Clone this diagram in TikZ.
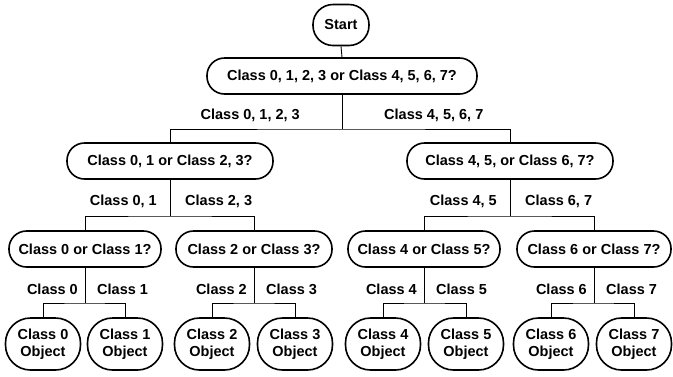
\documentclass[tikz,border=0pt]{standalone}
\usepackage{fontspec}
\setmainfont{Liberation Sans}
\begin{document}
\begin{tikzpicture}[x=1pt,y=-1pt,
  every node/.style={font=\fontsize{14.5}{17.5}\selectfont\bfseries, inner sep=0pt},
  decision/.style={draw, line width=1.6pt, rounded corners=17.5pt, minimum height=36pt},
  leafnode/.style={draw, line width=1.6pt, rounded corners=25pt, minimum width=75pt, minimum height=52pt, align=center},
  startnode/.style={draw, line width=1.6pt, rounded corners=20pt, minimum width=56pt, minimum height=41pt},
  conn/.style={line width=0.9pt},
  lbl/.style={}
]
\useasboundingbox (0,0) rectangle (673,376);

\node[startnode] (start) at (341,25) {Start};
\node[decision, minimum width=270pt] (root) at (342,76) {Class 0, 1, 2, 3 or Class 4, 5, 6, 7?};

\node[decision, minimum width=206pt] (b2l) at (170,161) {Class 0, 1 or Class 2, 3?};
\node[decision, minimum width=206pt] (b2r) at (510,161) {Class 4, 5, or Class 6, 7?};

\node[decision, minimum width=152pt] (b3a) at (85,249) {Class 0 or Class 1?};
\node[decision, minimum width=156pt] (b3b) at (254,249) {Class 2 or Class 3?};
\node[decision, minimum width=152pt] (b3c) at (424,249) {Class 4 or Class 5?};
\node[decision, minimum width=154pt] (b3d) at (594,249) {Class 6 or Class 7?};

\node[leafnode] (l0) at (43,344) {Class 0\\Object};
\node[leafnode] (l1) at (125,344) {Class 1\\Object};
\node[leafnode] (l2) at (212,344) {Class 2\\Object};
\node[leafnode] (l3) at (295,344) {Class 3\\Object};
\node[leafnode] (l4) at (383,344) {Class 4\\Object};
\node[leafnode] (l5) at (466,344) {Class 5\\Object};
\node[leafnode] (l6) at (551,344) {Class 6\\Object};
\node[leafnode] (l7) at (634,344) {Class 7\\Object};

% junctions
\coordinate (j1) at (root.south |- 0,129);
\coordinate (j2l) at (b2l.south |- 0,216);
\coordinate (j2r) at (b2r.south |- 0,216);
\coordinate (j3a) at (b3a.south |- 0,303);
\coordinate (j3b) at (b3b.south |- 0,303);
\coordinate (j3c) at (b3c.south |- 0,303);
\coordinate (j3d) at (b3d.south |- 0,303);

\draw[conn] (start.south) -- (root.north);

\draw[conn] (root.south) -- (j1);
\draw[conn] (b2l.north) |- (j1) -| (b2r.north);

\draw[conn] (b2l.south) -- (j2l);
\draw[conn] (b3a.north) |- (j2l) -| (b3b.north);
\draw[conn] (b2r.south) -- (j2r);
\draw[conn] (b3c.north) |- (j2r) -| (b3d.north);

\draw[conn] (b3a.south) -- (j3a);
\draw[conn] (l0.north) |- (j3a) -| (l1.north);
\draw[conn] (b3b.south) -- (j3b);
\draw[conn] (l2.north) |- (j3b) -| (l3.north);
\draw[conn] (b3c.south) -- (j3c);
\draw[conn] (l4.north) |- (j3c) -| (l5.north);
\draw[conn] (b3d.south) -- (j3d);
\draw[conn] (l6.north) |- (j3d) -| (l7.north);

% branch labels
\node[lbl, anchor=east] (t1l) at ([xshift=-42pt,yshift=14pt]j1) {Class 0, 1, 2, 3};
\node[lbl, anchor=west] (t1r) at ([xshift=42pt,yshift=14pt]j1) {Class 4, 5, 6, 7};

\node[lbl, anchor=east] (t2a) at ([xshift=-13pt,yshift=15pt]j2l) {Class 0, 1};
\node[lbl, anchor=west] (t2b) at ([xshift=15pt,yshift=15pt]j2l) {Class 2, 3};
\node[lbl, anchor=east] (t2c) at ([xshift=-13pt,yshift=15pt]j2r) {Class 4, 5};
\node[lbl, anchor=west] (t2d) at ([xshift=15pt,yshift=15pt]j2r) {Class 6, 7};

\node[lbl, anchor=east] (t3a) at ([xshift=-7pt,yshift=14pt]j3a) {Class 0};
\node[lbl, anchor=west] (t3b) at ([xshift=12pt,yshift=14pt]j3a) {Class 1};
\node[lbl, anchor=east] (t3c) at ([xshift=-7pt,yshift=14pt]j3b) {Class 2};
\node[lbl, anchor=west] (t3d) at ([xshift=12pt,yshift=14pt]j3b) {Class 3};
\node[lbl, anchor=east] (t3e) at ([xshift=-7pt,yshift=14pt]j3c) {Class 4};
\node[lbl, anchor=west] (t3f) at ([xshift=12pt,yshift=14pt]j3c) {Class 5};
\node[lbl, anchor=east] (t3g) at ([xshift=-7pt,yshift=14pt]j3d) {Class 6};
\node[lbl, anchor=west] (t3h) at ([xshift=12pt,yshift=14pt]j3d) {Class 7};
\end{tikzpicture}
\end{document}
